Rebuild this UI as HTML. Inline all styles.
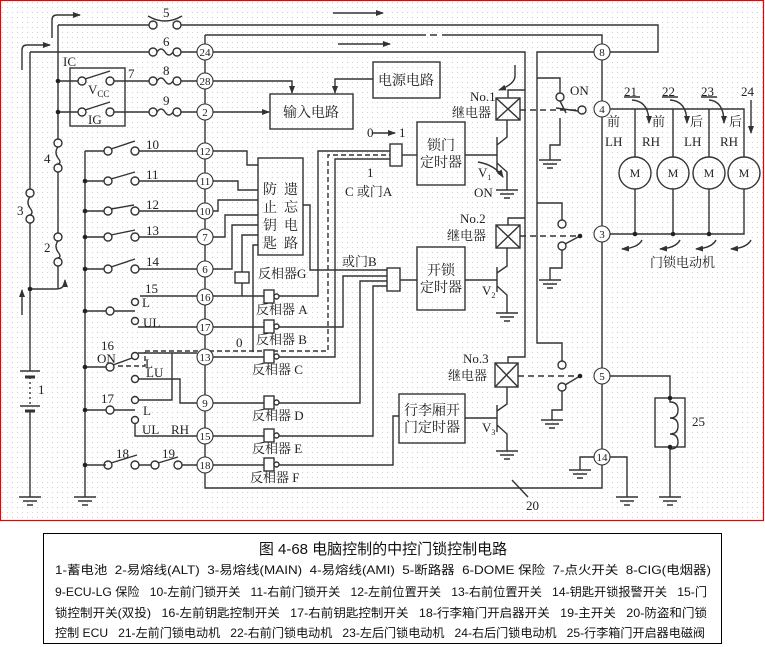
<!DOCTYPE html>
<html><head><meta charset="utf-8">
<style>
html,body{margin:0;padding:0;background:#fff;}
svg{display:block;}
.t{font-family:"Liberation Serif","Noto Serif CJK SC",serif;fill:#222;}
.c{font-family:"Liberation Sans","Noto Sans CJK SC",sans-serif;fill:#111;white-space:pre;}
</style></head><body>
<svg width="765" height="647" viewBox="0 0 765 647" xmlns="http://www.w3.org/2000/svg">
<defs>
<pattern id="dots" width="5" height="5" patternUnits="userSpaceOnUse"><rect x="2" y="2" width="1" height="1" fill="#cfcfcf"/></pattern>
<marker id="ar" markerWidth="8" markerHeight="6" refX="7" refY="3" orient="auto" markerUnits="userSpaceOnUse"><path d="M0,0 L8,3 L0,6 Z" fill="#333"/></marker>
</defs>
<rect x="0" y="0" width="765" height="647" fill="#fff"/>
<rect x="0.5" y="0.5" width="763" height="520" fill="url(#dots)" stroke="#e00" stroke-width="1.2"/>

<g stroke="#333" stroke-width="1.4" fill="none">
<path d="M30,52 V189 M30,223 V371 M30,411 V497"/>
<path d="M20,371 H40 M20,406 H40"/>
<path d="M25,377 H35 M25,411 H35" stroke-width="3"/>
<path d="M30,377 V406" stroke-dasharray="2,3"/>
<circle cx="30" cy="193" r="4"/><circle cx="30" cy="219" r="4"/>
<path d="M30,197 q-4,5 0,11 q4,5 0,7"/>
<path d="M58,25 V139 M58,172 V233 M58,266 V289"/>
<circle cx="58" cy="143" r="4"/><circle cx="58" cy="168" r="4"/><path d="M58,147 q-4,5 0,11 q4,5 0,6"/>
<circle cx="58" cy="237" r="4"/><circle cx="58" cy="262" r="4"/><path d="M58,241 q-4,5 0,11 q4,5 0,6"/>
<path d="M30,289 H56 Q65,289 65,280" marker-end="url(#ar)"/>
<path d="M22,315 V290" marker-end="url(#ar)"/>
<path d="M22,70 V50 Q22,45 27,45 H50" marker-end="url(#ar)"/>
<path d="M52,38 V20 Q52,15 57,15 H80" marker-end="url(#ar)"/>
<path d="M333,13 H383" marker-end="url(#ar)"/>
<path d="M338,44 H390" marker-end="url(#ar)"/>
<path d="M58,25 H149 M181,25 H658 V52 H610"/>
<circle cx="153" cy="25" r="4"/><circle cx="177" cy="25" r="4"/><path d="M148,16 Q165,26 182,16"/>
<path d="M30,52 H149 M181,52 H197 M213,52 H525 V357 H508 V363"/>
<circle cx="153" cy="52" r="4"/><circle cx="177" cy="52" r="4"/><path d="M157,52 q4,-6 8,0 q4,6 8,0"/>
<rect x="70" y="68" width="55" height="58"/>
<path d="M58,81 H78 M114,81 H149 M181,81 H197"/>
<circle cx="82" cy="81" r="4"/><circle cx="110" cy="81" r="4"/><path d="M85,79 L110,71"/>
<circle cx="153" cy="81" r="4"/><circle cx="177" cy="81" r="4"/><path d="M157,81 q4,-6 8,0 q4,6 8,0"/>
<path d="M58,112 H78 M114,112 H149 M181,112 H197"/>
<circle cx="82" cy="112" r="4"/><circle cx="110" cy="112" r="4"/><path d="M85,110 L110,102"/>
<circle cx="153" cy="112" r="4"/><circle cx="177" cy="112" r="4"/><path d="M157,112 q4,-6 8,0 q4,6 8,0"/>
<path d="M205,35 H426 M430,35 H437 M442,35 H602 V44 M602,60 V488 H205 V35"/>
<path d="M594,52 H537 V343 H562 V361"/>
<path d="M537,78 H560 V93"/>
<path d="M537,203 H562 V220"/>
<rect x="270" y="94" width="83" height="35"/>
<rect x="373" y="62" width="67" height="36"/>
<path d="M213,81 H292 V93" marker-end="url(#ar)"/>
<path d="M373,79 H335 V93" marker-end="url(#ar)"/>
<path d="M213,112 H269" marker-end="url(#ar)"/>
<rect x="417" y="122" width="48" height="63"/>
<rect x="390" y="144" width="12" height="22"/>
<path d="M402,155 H417"/>
<path d="M372,133 H395" marker-end="url(#ar)"/>
<rect x="258" y="158" width="45" height="97"/>
<rect x="417" y="247" width="48" height="63"/>
<rect x="387" y="268" width="13" height="23"/>
<path d="M400,280 H417"/>
<rect x="399" y="394" width="66" height="49"/>
<rect x="496" y="98" width="24" height="22"/><path d="M496,98 L520,120 M520,98 L496,120"/>
<rect x="496" y="225" width="24" height="23"/><path d="M496,225 L520,248 M520,225 L496,248"/>
<rect x="495" y="363" width="23" height="24"/><path d="M495,363 L518,387 M518,363 L495,387"/>
<path d="M508,98 V90 H525 M508,225 V218 H525"/>
<path d="M520,110 H580 M520,236 H580 M518,376 H580" stroke-dasharray="6,4"/>
<path d="M515,65 V76 Q515,84 499,90" marker-end="url(#ar)"/>
<path d="M465,155 H497 M497,137 V172 M497,145 L507,137 V120 M497,163 L507,172 V190"/>
<path d="M465,280 H497 M497,267 V292 M497,273 L507,266 V248 M497,286 L507,295 V313"/>
<path d="M465,418 H497 M497,405 V432 M497,411 L507,404 V387 M497,425 L507,434 V451"/>
<path d="M478,162 Q495,165 503,177" marker-end="url(#ar)"/>
<path d="M496,190 H518 M500,194 H514 M504,198 H510"/>
<path d="M496,313 H518 M500,317 H514 M504,321 H510"/>
<path d="M496,451 H518 M500,455 H514 M504,459 H510"/>
<path d="M19,497 H41 M23,501 H37 M27,505 H33"/>
<path d="M74,497 H96 M78,501 H92 M82,505 H88"/>
<path d="M539,160 H561 M543,164 H557 M547,168 H553"/>
<path d="M539,280 H561 M543,284 H557 M547,288 H553"/>
<path d="M541,420 H563 M545,424 H559 M549,428 H555"/>
<path d="M569,470 H591 M573,474 H587 M577,478 H583"/>
<path d="M616,497 H638 M620,501 H634 M624,505 H630"/>
<path d="M659,497 H681 M663,501 H677 M667,505 H673"/>
<circle cx="560" cy="97" r="4"/><circle cx="582" cy="110" r="4"/>
<path d="M578,111 L556,108 M560,101 L566,113"/>
<path d="M560,118 V145 H550 V160"/>
<circle cx="562" cy="224" r="4"/><circle cx="562" cy="246" r="4"/>
<path d="M565,244 L580,236"/>
<path d="M562,250 V268 H550 V280"/>
<circle cx="562" cy="365" r="4"/><circle cx="562" cy="387" r="4"/>
<path d="M565,385 L580,376"/>
<path d="M562,391 V410 H552 V420"/>
<path d="M610,109 H744 V157 M610,234 H744 V189"/>
<path d="M635,109 V157 M635,189 V234 M673,109 V157 M673,189 V234 M709,109 V157 M709,189 V234"/>
<circle cx="635" cy="173" r="16"/><circle cx="673" cy="173" r="16"/><circle cx="709" cy="173" r="16"/><circle cx="744" cy="173" r="16"/>
<path d="M624,97 H640 M662,97 H678 M701,97 H717"/>
<path d="M632,100 Q649,101 649,123" marker-end="url(#ar)"/>
<path d="M670,100 Q687,101 687,123" marker-end="url(#ar)"/>
<path d="M709,100 Q724,101 724,123" marker-end="url(#ar)"/>
<path d="M751,100 V133" marker-end="url(#ar)"/>
<path d="M642,240 Q638,248 622,249" marker-end="url(#ar)"/>
<path d="M680,240 Q676,248 660,249" marker-end="url(#ar)"/>
<path d="M716,240 Q712,248 696,249" marker-end="url(#ar)"/>
<path d="M751,240 Q747,248 731,249" marker-end="url(#ar)"/>
<path d="M610,376 H670 V398 M670,447 V497"/>
<rect x="655" y="398" width="30" height="49"/>
<path d="M670,398 V402 q8,0 8,8 q0,8 -8,8 q8,0 8,8 q0,8 -8,8 q8,0 8,8 q0,7 -8,7"/>
<path d="M594,457 H580 V470 M610,457 H627 V497"/>
<path d="M512,480 L528,497"/>
<path d="M85,151 V497"/>
<path d="M85,151 H104 M85,181 H104 M85,211 H104 M85,237 H104 M85,269 H104 M85,311 H106 M85,367 H106 M85,410 H106 M85,465 H106"/>
<circle cx="108" cy="151" r="4"/><circle cx="135" cy="151" r="4"/><path d="M111,149 L135,141 M139,151 H197"/>
<circle cx="108" cy="181" r="4"/><circle cx="135" cy="181" r="4"/><path d="M111,179 L135,172 M139,181 H197"/>
<circle cx="108" cy="211" r="4"/><circle cx="135" cy="211" r="4"/><path d="M111,209 L134,205 M139,211 H197"/>
<circle cx="108" cy="237" r="4"/><circle cx="135" cy="237" r="4"/><path d="M111,235 L135,230 M139,237 H197"/>
<circle cx="108" cy="269" r="4"/><circle cx="135" cy="269" r="4"/><path d="M111,267 L135,259 M139,269 H197"/>
<circle cx="110" cy="311" r="4"/><path d="M114,311 H135"/>
<circle cx="135" cy="302" r="3.5"/><circle cx="135" cy="321" r="3.5"/>
<path d="M140,296 H197 M138,327 H197"/>
<circle cx="110" cy="367" r="4"/><path d="M113,365 L132,358"/>
<circle cx="135" cy="356" r="3.5"/><circle cx="135" cy="379" r="3.5"/>
<path d="M138,353 H197 M172,353 V400 H139 M139,379 H180 V403 H197"/>
<path d="M118,366 H145 V352 M145,351 H328 V155 H390" stroke-dasharray="5,3"/>
<circle cx="110" cy="410" r="4"/><path d="M114,410 H135"/>
<circle cx="135" cy="400" r="3.5"/><circle cx="135" cy="420" r="3.5"/>
<path d="M135,424 V436 H197"/>
<circle cx="108" cy="465" r="4"/><circle cx="135" cy="465" r="4"/><path d="M111,463 L137,455 M139,465 H151"/>
<circle cx="155" cy="465" r="4"/><circle cx="178" cy="465" r="4"/><path d="M158,463 L178,457 M182,465 H197"/>
<path d="M213,151 H247 V165 H258 M213,181 H238 V190 H258 M213,211 H218 V200 H258 M213,237 H225 V215 H258 M213,269 H232 V225 H258"/>
<path d="M242,272 V235 H258 M242,283 V296 M253,352 V245 H258"/>
<rect x="235" y="272" width="14" height="11"/>
<path d="M303,205 H310 V270 H387"/>
<path d="M213,296 H264 M213,327 H264 M213,357 H264 M213,403 H264 M213,436 H264 M213,465 H264"/>
<path d="M279,296 H318 V151 H390 M279,357 H335 V159 H390"/>
<path d="M279,327 H343 V276 H387 M279,403 H360 V281 H387 M279,436 H373 V286 H387 M279,465 H393 V416 H399"/>
<g fill="#fff">
<rect x="264" y="290" width="10" height="13"/><circle cx="276.5" cy="296.5" r="2.5"/>
<rect x="264" y="320" width="10" height="13"/><circle cx="276.5" cy="326.5" r="2.5"/>
<rect x="264" y="350" width="10" height="13"/><circle cx="276.5" cy="356.5" r="2.5"/>
<rect x="264" y="396" width="10" height="13"/><circle cx="276.5" cy="402.5" r="2.5"/>
<rect x="264" y="429" width="10" height="13"/><circle cx="276.5" cy="435.5" r="2.5"/>
<rect x="264" y="458" width="10" height="13"/><circle cx="276.5" cy="464.5" r="2.5"/>
</g>
<g fill="#fff" stroke-width="1.1">
<circle cx="205" cy="52" r="8"/><circle cx="205" cy="81" r="8"/><circle cx="205" cy="112" r="8"/>
<circle cx="205" cy="151" r="8"/><circle cx="205" cy="181" r="8"/><circle cx="205" cy="211" r="8"/>
<circle cx="205" cy="237" r="8"/><circle cx="205" cy="269" r="8"/><circle cx="205" cy="297" r="8"/>
<circle cx="205" cy="327" r="8"/><circle cx="205" cy="357" r="8"/><circle cx="205" cy="403" r="8"/>
<circle cx="205" cy="436" r="8"/><circle cx="205" cy="465" r="8"/>
<circle cx="602" cy="52" r="8"/><circle cx="602" cy="109" r="8"/><circle cx="602" cy="234" r="8"/>
<circle cx="602" cy="376" r="8"/><circle cx="602" cy="457" r="8"/>
</g>
</g>
<g fill="#222">
<circle cx="58" cy="81" r="2.3"/><circle cx="58" cy="112" r="2.3"/><circle cx="30" cy="289" r="2.3"/>
<circle cx="85" cy="181" r="2.3"/><circle cx="85" cy="211" r="2.3"/><circle cx="85" cy="237" r="2.3"/>
<circle cx="85" cy="269" r="2.3"/><circle cx="85" cy="311" r="2.3"/><circle cx="85" cy="367" r="2.3"/>
<circle cx="85" cy="410" r="2.3"/><circle cx="85" cy="465" r="2.3"/>
<circle cx="635" cy="234" r="2.3"/><circle cx="673" cy="234" r="2.3"/><circle cx="709" cy="234" r="2.3"/>
<circle cx="580" cy="236" r="2.3"/><circle cx="580" cy="376" r="2.3"/>
<circle cx="670" cy="398" r="2.3"/><circle cx="670" cy="447" r="2.3"/>
</g>

<g class="t" font-size="11" text-anchor="middle">
<text x="205" y="56">24</text><text x="205" y="85">28</text><text x="205" y="116">2</text>
<text x="205" y="155">12</text><text x="205" y="185">11</text><text x="205" y="215">10</text>
<text x="205" y="241">7</text><text x="205" y="273">6</text><text x="205" y="301">16</text>
<text x="205" y="331">17</text><text x="205" y="361">13</text><text x="205" y="407">9</text>
<text x="205" y="440">15</text><text x="205" y="469">18</text>
<text x="602" y="56">8</text><text x="602" y="113">4</text><text x="602" y="238">3</text>
<text x="602" y="380">5</text><text x="602" y="461">14</text>
</g>
<g class="t" font-size="13">
<text x="163" y="17">5</text><text x="163" y="46">6</text><text x="163" y="75">8</text><text x="163" y="105">9</text>
<text x="128" y="78">7</text><text x="63" y="66">IC</text>
<text x="88" y="94">V<tspan font-size="9" dy="3">CC</tspan></text>
<text x="88" y="124">IG</text>
<text x="44" y="163">4</text><text x="44" y="252">2</text><text x="17" y="215">3</text><text x="38" y="394">1</text>
<text x="146" y="149">10</text><text x="146" y="179">11</text><text x="146" y="209">12</text><text x="146" y="235">13</text><text x="146" y="266">14</text>
<text x="145" y="293">15</text><text x="142" y="307">L</text><text x="143" y="327">UL</text>
<text x="101" y="350">16</text><text x="97" y="363">ON</text><text x="145" y="368">L</text><text x="146" y="377">LU</text>
<text x="101" y="403">17</text><text x="143" y="415">L</text><text x="142" y="434">UL</text><text x="171" y="434">RH</text>
<text x="116" y="458">18</text><text x="162" y="458">19</text>
<text x="236" y="347">0</text>
<text x="367" y="137">0</text><text x="399" y="137">1</text>
<text x="367" y="177">1</text>
<text x="345" y="196">C 或门A</text>
<text x="342" y="266">或门B</text>
<text x="258" y="278">反相器G</text>
<text x="256" y="314">反相器 A</text>
<text x="256" y="344">反相器 B</text>
<text x="252" y="374">反相器 C</text>
<text x="252" y="420">反相器 D</text>
<text x="252" y="453">反相器 E</text>
<text x="250" y="482">反相器 F</text>
<text x="470" y="101">No.1</text><text x="452" y="117">继电器</text>
<text x="460" y="223">No.2</text><text x="447" y="240">继电器</text>
<text x="463" y="363">No.3</text><text x="448" y="380">继电器</text>
<text x="478" y="177">V<tspan font-size="8" dy="3">1</tspan></text>
<text x="474" y="197">ON</text>
<text x="482" y="295">V<tspan font-size="8" dy="3">2</tspan></text>
<text x="482" y="432">V<tspan font-size="8" dy="3">3</tspan></text>
<text x="570" y="95">ON</text>
<text x="624" y="96">21</text><text x="662" y="96">22</text><text x="701" y="96">23</text><text x="741" y="96">24</text>
<text x="607" y="126">前</text><text x="652" y="126">前</text><text x="690" y="126">后</text><text x="729" y="126">后</text>
<text x="605" y="146">LH</text><text x="642" y="146">RH</text><text x="684" y="146">LH</text><text x="720" y="146">RH</text>
<text x="650" y="267">门锁电动机</text>
<text x="692" y="426">25</text>
<text x="526" y="510">20</text>
</g>
<g class="t" font-size="12" text-anchor="middle">
<text x="635" y="177">M</text><text x="673" y="177">M</text><text x="709" y="177">M</text><text x="744" y="177">M</text>
</g>
<g class="t" font-size="14" text-anchor="middle">
<text x="311" y="117">输入电路</text>
<text x="406" y="85">电源电路</text>
<text x="441" y="150">锁门</text><text x="441" y="167">定时器</text>
<text x="441" y="275">开锁</text><text x="441" y="292">定时器</text>
<text x="432" y="415">行李厢开</text><text x="432" y="432">门定时器</text>
<text x="270" y="194">防</text><text x="270" y="212">止</text><text x="270" y="230">钥</text><text x="270" y="248">匙</text>
<text x="291" y="194">遗</text><text x="291" y="212">忘</text><text x="291" y="230">电</text><text x="291" y="248">路</text>
</g>

<rect x="43.5" y="533.5" width="678" height="110" fill="#fff" stroke="#000" stroke-width="1"/>
<text class="c" x="383" y="554" style="font-size:15px" text-anchor="middle">图 4-68 电脑控制的中控门锁控制电路</text>
<text class="c" x="55" y="574" style="font-size:12px" textLength="656" lengthAdjust="spacingAndGlyphs">1-蓄电池  2-易熔线(ALT)  3-易熔线(MAIN)  4-易熔线(AMI)  5-断路器  6-DOME 保险  7-点火开关  8-CIG(电烟器)</text>
<text class="c" x="55" y="596" style="font-size:12px" textLength="652" lengthAdjust="spacingAndGlyphs">9-ECU-LG 保险   10-左前门锁开关   11-右前门锁开关   12-左前位置开关   13-右前位置开关   14-钥匙开锁报警开关   15-门</text>
<text class="c" x="55" y="617" style="font-size:12px" textLength="652" lengthAdjust="spacingAndGlyphs">锁控制开关(双投)   16-左前钥匙控制开关   17-右前钥匙控制开关   18-行李箱门开启器开关   19-主开关   20-防盗和门锁</text>
<text class="c" x="55" y="637" style="font-size:12px" textLength="650" lengthAdjust="spacingAndGlyphs">控制 ECU   21-左前门锁电动机   22-右前门锁电动机   23-左后门锁电动机   24-右后门锁电动机   25-行李箱门开启器电磁阀</text>
</svg>
</body></html>
